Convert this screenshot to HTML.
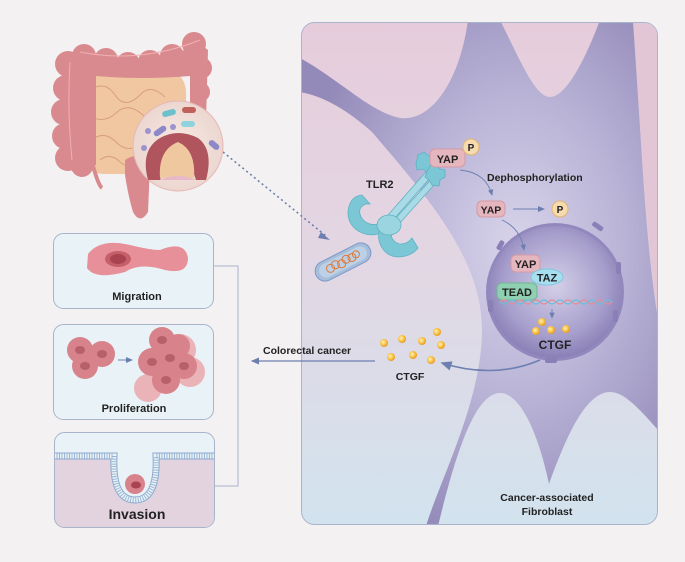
<!DOCTYPE html>
<html><head><meta charset="utf-8"><style>
html,body{margin:0;padding:0;background:#f3f1f2;}
svg{display:block;font-family:"Liberation Sans",Arial,sans-serif;font-weight:bold;}
</style></head><body>
<svg width="685" height="562" viewBox="0 0 685 562" xmlns="http://www.w3.org/2000/svg">
<defs>
<linearGradient id="pbg" x1="0" y1="0" x2="0" y2="1">
<stop offset="0" stop-color="#e6ccdb"/><stop offset="0.45" stop-color="#e3d6e3"/><stop offset="1" stop-color="#d2e3ee"/></linearGradient>
<radialGradient id="cell" cx="0.6" cy="0.45" r="0.6">
<stop offset="0" stop-color="#d8d4ea"/><stop offset="0.5" stop-color="#b9b3d6"/><stop offset="1" stop-color="#938ab9"/></radialGradient>
<radialGradient id="nuc" cx="0.5" cy="0.45" r="0.55">
<stop offset="0" stop-color="#d4cfe8"/><stop offset="0.7" stop-color="#a79fcc"/><stop offset="1" stop-color="#8a80b6"/></radialGradient>
<radialGradient id="dot" cx="0.4" cy="0.4" r="0.6"><stop offset="0" stop-color="#fff3b0"/><stop offset="0.6" stop-color="#f7c24a"/><stop offset="1" stop-color="#e89a20"/></radialGradient>
<radialGradient id="mag" cx="0.5" cy="0.5" r="0.5"><stop offset="0" stop-color="#f7ebe4"/><stop offset="1" stop-color="#ecd6d0"/></radialGradient>
<marker id="ar" markerWidth="8" markerHeight="8" refX="6" refY="4" orient="auto"><path d="M0,1 L7,4 L0,7 Z" fill="#6d7fb0"/></marker>
</defs>

<rect x="301.5" y="22.5" width="356" height="502" rx="13" fill="url(#pbg)" stroke="#a8b4cc"/>
<clipPath id="pc"><rect x="302" y="23" width="355" height="501" rx="12"/></clipPath>
<g clip-path="url(#pc)">
<path d="M300,58 C340,80 370,112 400,118 C432,122 460,80 468,20 L500,20 C520,60 535,97 550,97 C566,97 585,60 600,20 L634,20 C640,120 645,250 660,330 L660,432 C640,410 625,392 610,392 C585,392 565,440 549,484 C540,440 522,393 500,393 C472,393 452,470 438,526 L426,526 C440,480 482,400 482,330 C482,260 430,200 372,132 C345,108 322,96 300,92 Z" fill="url(#cell)"/>
<path d="M633,22 C640,120 646,250 660,330 L660,22 Z" fill="#e2c6d6"/>
</g>

<circle cx="555" cy="292" r="69" fill="#9388bd"/>
<circle cx="555" cy="292" r="66" fill="url(#nuc)"/>
<g fill="#8a80b6">
<rect x="592" y="224" width="12" height="5" rx="2" transform="rotate(35 598 226)"/>
<rect x="616" y="262" width="5" height="12" rx="2"/>
<rect x="613" y="310" width="5" height="12" rx="2"/>
<rect x="498" y="240" width="5" height="10" rx="2" transform="rotate(30 500 245)"/>
<rect x="488" y="300" width="5" height="12" rx="2"/>
<rect x="545" y="358" width="12" height="5" rx="2"/>
</g>

<g fill="#7cc7d6" stroke="#5fb2c4" stroke-width="0.8">
<path d="M388,215 L432,165 L437,170 L394,219 Z" fill="#a8dbe5"/>
<path d="M394,220 L438,172 L442,176 L399,224 Z" fill="#a8dbe5"/>
<path d="M418,155 l6,-3 l5,4 l5,-2 l3,6 l-4,5 l2,6 l-7,2 l-5,-4 l-6,1 l-1,-7 z"/>
<path d="M430,166 l6,-1 l4,4 l5,1 l0,7 l-5,3 l-1,6 l-7,-1 l-3,-5 l-4,-3 l2,-6 z"/>
<path d="M362,195 C350,196 345,210 350,222 C356,234 372,238 382,232 L378,224 C370,226 362,222 360,214 C358,207 365,203 370,204 Z"/>
<path d="M385,222 C376,228 376,246 388,254 C398,260 412,256 418,248 L412,238 C406,246 396,246 392,238 C390,232 396,226 400,227 Z"/>
<ellipse cx="389" cy="225" rx="12" ry="10" fill="#9ad5e0"/>
</g>
<text x="366" y="188" font-size="11" fill="#222">TLR2</text>

<g transform="rotate(-27 343 262)">
<rect x="313" y="252" width="60" height="20" rx="10" fill="#a6bedc" stroke="#7e98c4"/>
<rect x="317" y="255" width="52" height="14" rx="7" fill="#bcd0e6"/>
<g fill="none" stroke="#e07a3a" stroke-width="1">
<circle cx="329" cy="262" r="4"/><circle cx="335" cy="261" r="4"/><circle cx="341" cy="263" r="4"/><circle cx="347" cy="261" r="4"/><circle cx="353" cy="262" r="4"/><circle cx="358" cy="261" r="3.5"/></g>
</g>

<line x1="223" y1="152" x2="326" y2="236" stroke="#6d7fb0" stroke-width="1.6" stroke-dasharray="2,3"/>
<path d="M321,232 L330,240 L318,238 Z" fill="#6d7fb0"/>

<rect x="430" y="149" width="35" height="18" rx="5" fill="#e6b6bf" stroke="#d39aa6"/>
<text x="447.5" y="163" font-size="11" fill="#222" text-anchor="middle">YAP</text>
<circle cx="471" cy="147" r="8" fill="#f6dbb0" stroke="#e2b56d"/>
<text x="471" y="151" font-size="10" fill="#222" text-anchor="middle">P</text>
<path d="M460,170 C478,172 488,180 492,195" fill="none" stroke="#6d7fb0" stroke-width="0.9" marker-end="url(#ar)"/>
<text x="487" y="181" font-size="10.5" fill="#222">Dephosphorylation</text>
<rect x="477" y="201" width="28" height="16" rx="5" fill="#e6b6bf" stroke="#d39aa6"/>
<text x="491" y="213.5" font-size="10.5" fill="#222" text-anchor="middle">YAP</text>
<line x1="513" y1="209" x2="544" y2="209" stroke="#6d7fb0" stroke-width="1" marker-end="url(#ar)"/>
<circle cx="560" cy="209" r="8" fill="#f6dbb0" stroke="#e2b56d"/>
<text x="560" y="213" font-size="10" fill="#222" text-anchor="middle">P</text>
<path d="M502,220 C515,226 522,236 524,250" fill="none" stroke="#6d7fb0" stroke-width="0.9" marker-end="url(#ar)"/>

<rect x="511" y="255" width="29" height="17" rx="5" fill="#e6b6bf" stroke="#d39aa6"/>
<text x="525.5" y="268" font-size="11" fill="#222" text-anchor="middle">YAP</text>
<ellipse cx="547" cy="277" rx="16" ry="8" fill="#a8dff0" stroke="#7cc7e0"/>
<text x="547" y="281.5" font-size="11" fill="#222" text-anchor="middle">TAZ</text>
<rect x="497" y="283" width="40" height="17" rx="5" fill="#8fcfb2" stroke="#6fb796"/>
<text x="517" y="296" font-size="11" fill="#222" text-anchor="middle">TEAD</text>
<path d="M500,302 q4,-4 8,0 t8,0 t8,0 t8,0 t8,0 t8,0 t8,0 t8,0 t8,0 t8,0 t8,0 t8,0 t8,0 t8,0" fill="none" stroke="#e88a9a" stroke-width="1.2"/>
<path d="M500,302 q4,4 8,0 t8,0 t8,0 t8,0 t8,0 t8,0 t8,0 t8,0 t8,0 t8,0 t8,0 t8,0 t8,0 t8,0" fill="none" stroke="#6cbfd6" stroke-width="1.2"/>
<line x1="552" y1="309" x2="552" y2="318" stroke="#6d7fb0" stroke-width="0.9" marker-end="url(#ar)"/>
<g fill="url(#dot)"><circle cx="542" cy="322" r="4"/><circle cx="536" cy="331" r="4"/><circle cx="551" cy="330" r="4"/><circle cx="566" cy="329" r="4"/></g>
<text x="555" y="349" font-size="12" fill="#222" text-anchor="middle">CTGF</text>

<path d="M540,360 C505,375 470,372 442,363" fill="none" stroke="#6d7fb0" stroke-width="1.6" marker-end="url(#ar)"/>
<g fill="url(#dot)"><circle cx="384" cy="343" r="4"/><circle cx="402" cy="339" r="4"/><circle cx="422" cy="341" r="4"/><circle cx="437" cy="332" r="4"/><circle cx="441" cy="345" r="4"/><circle cx="391" cy="357" r="4"/><circle cx="413" cy="355" r="4"/><circle cx="431" cy="360" r="4"/></g>
<text x="410" y="380" font-size="10.5" fill="#222" text-anchor="middle">CTGF</text>

<text x="263" y="354" font-size="10.5" fill="#222">Colorectal cancer</text>
<line x1="375" y1="361" x2="252" y2="361" stroke="#6d7fb0" stroke-width="1.2" marker-end="url(#ar)"/>
<text x="547" y="501" font-size="10.5" fill="#222" text-anchor="middle">Cancer-associated</text>
<text x="547" y="515" font-size="10.5" fill="#222" text-anchor="middle">Fibroblast</text>

<!-- colon -->
<rect x="80" y="68" width="106" height="106" rx="24" fill="#f1c7a2"/>
<g fill="none" stroke="#d99f7c" stroke-width="1">
<path d="M90,90 q15,-10 25,5 q10,15 25,0 q10,-12 25,2"/><path d="M88,115 q15,10 28,-2 q12,-12 28,3 q14,10 26,-3"/><path d="M92,140 q12,-10 24,2 q14,14 26,-2 q10,-10 22,3"/><path d="M100,160 q10,-8 20,2 q10,8 20,-2"/></g>
<g fill="#d98a8e">
<path d="M92,162 Q98,185 102,188" stroke="#d98a8e" stroke-width="4" fill="none"/>
<path d="M125,160 Q140,150 150,165 L148,212 Q140,225 133,212 Q128,195 125,175 Z"/>
<path d="M62,60 Q100,58 140,66 Q175,62 195,40 L208,50 L206,120 L190,118 L190,76 Q140,80 96,76 L96,165 L62,165 Z"/>
<circle cx="68" cy="64" r="13"/><circle cx="66" cy="88" r="13"/><circle cx="64" cy="112" r="13"/><circle cx="65" cy="136" r="13"/><circle cx="68" cy="158" r="13"/><circle cx="82" cy="166" r="11"/>
<circle cx="84" cy="56" r="12"/><circle cx="106" cy="60" r="12"/><circle cx="128" cy="64" r="12"/><circle cx="150" cy="62" r="12"/><circle cx="172" cy="56" r="12"/><circle cx="194" cy="44" r="12"/>
<circle cx="201" cy="68" r="11"/><circle cx="200" cy="92" r="10"/><circle cx="196" cy="112" r="9"/>
</g>
<path d="M70,62 Q67,110 72,160" stroke="#f0b0b3" stroke-width="1" fill="none"/>
<path d="M80,52 Q140,64 200,40" stroke="#f0b0b3" stroke-width="1" fill="none"/>
<circle cx="178" cy="146" r="45" fill="url(#mag)" stroke="#e6b6b6"/>
<path d="M148,180 Q140,150 160,138 Q178,128 198,138 Q214,150 206,180 L196,180 Q190,160 180,158 Q168,160 160,180 Z" fill="#b0555d"/>
<path d="M160,178 Q158,150 178,142 Q196,150 194,178 Z" fill="#f0c8a0"/>
<path d="M160,180 Q178,172 196,180 Z" fill="#e7b8c8"/>
<rect x="162" y="110" width="14" height="6" rx="3" fill="#6cc0cc" transform="rotate(-15 169 113)"/>
<rect x="182" y="107" width="14" height="6" rx="3" fill="#c0605a"/>
<rect x="181" y="121" width="14" height="6" rx="3" fill="#8fd4dc"/>
<rect x="153" y="128" width="14" height="6" rx="3" fill="#8d88c8" transform="rotate(-35 160 131)"/>
<rect x="208" y="142" width="12" height="6" rx="3" fill="#8d88c8" transform="rotate(40 214 145)"/>
<circle cx="148" cy="131" r="3" fill="#9c94cc"/><circle cx="173" cy="127" r="3" fill="#9c94cc"/><circle cx="144" cy="148" r="3" fill="#9c94cc"/>

<rect x="53.5" y="233.5" width="160" height="75" rx="10" fill="#e9f3f7" stroke="#a8b4cc"/>
<path d="M88,254 Q100,238 130,245 Q150,250 160,250 Q185,240 188,258 Q188,275 165,270 Q140,262 125,272 Q95,280 87,268 Z" fill="#e8909a"/>
<ellipse cx="118" cy="259" rx="13" ry="8" fill="#c55f6a"/>
<ellipse cx="118" cy="259" rx="8" ry="5" fill="#a8434f"/>
<text x="137" y="300" font-size="11" fill="#222" text-anchor="middle">Migration</text>

<rect x="53.5" y="324.5" width="160" height="95" rx="10" fill="#e9f3f7" stroke="#a8b4cc"/>
<g fill="#d8838b"><circle cx="80" cy="350" r="13"/><circle cx="102" cy="354" r="13"/><circle cx="85" cy="366" r="13"/></g>
<g fill="#b8606a"><ellipse cx="80" cy="350" rx="5" ry="4"/><ellipse cx="102" cy="354" rx="5" ry="4"/><ellipse cx="85" cy="366" rx="5" ry="4"/></g>
<line x1="118" y1="360" x2="132" y2="360" stroke="#6d7fb0" marker-end="url(#ar)"/>
<g fill="#eab3b8"><circle cx="180" cy="350" r="16"/><circle cx="190" cy="372" r="15"/><circle cx="148" cy="388" r="14"/></g>
<g fill="#d8838b"><circle cx="162" cy="340" r="13"/><circle cx="152" cy="362" r="14"/><circle cx="170" cy="358" r="13"/><circle cx="184" cy="366" r="13"/><circle cx="166" cy="380" r="14"/><circle cx="178" cy="346" r="12"/></g>
<g fill="#b8606a"><ellipse cx="162" cy="340" rx="5" ry="4"/><ellipse cx="152" cy="362" rx="5" ry="4"/><ellipse cx="170" cy="358" rx="5" ry="4"/><ellipse cx="184" cy="366" rx="5" ry="4"/><ellipse cx="166" cy="380" rx="5" ry="4"/></g>
<text x="134" y="412" font-size="11" fill="#222" text-anchor="middle">Proliferation</text>

<clipPath id="ic"><rect x="54" y="432" width="160" height="95" rx="10"/></clipPath>
<g clip-path="url(#ic)">
<rect x="54" y="432" width="160" height="95" fill="#e9f3f7"/>
<path d="M54,456 L114,456 Q112,500 135,500 Q158,500 156,456 L214,456 L214,527 L54,527 Z" fill="#e3d3df"/>
<path d="M54,456 L114,456 Q112,500 135,500 Q158,500 156,456 L214,456" fill="none" stroke="#8eaad0" stroke-width="7"/>
<path d="M54,456 L114,456 Q112,500 135,500 Q158,500 156,456 L214,456" fill="none" stroke="#e9f3f7" stroke-width="5"/>
<path d="M54,456 L114,456 Q112,500 135,500 Q158,500 156,456 L214,456" fill="none" stroke="#9ab6d4" stroke-width="5" stroke-dasharray="1,1.5"/>
</g>
<rect x="54.5" y="432.5" width="160" height="95" rx="10" fill="none" stroke="#a8b4cc"/>
<circle cx="135" cy="484" r="10" fill="#d8838b"/><ellipse cx="136" cy="485" rx="5" ry="3.5" fill="#a8434f"/>
<text x="137" y="519" font-size="14" fill="#222" text-anchor="middle">Invasion</text>

<path d="M214,266 L238,266 L238,486 L214,486" fill="none" stroke="#a8b4cc" stroke-width="1"/>
</svg>
</body></html>
